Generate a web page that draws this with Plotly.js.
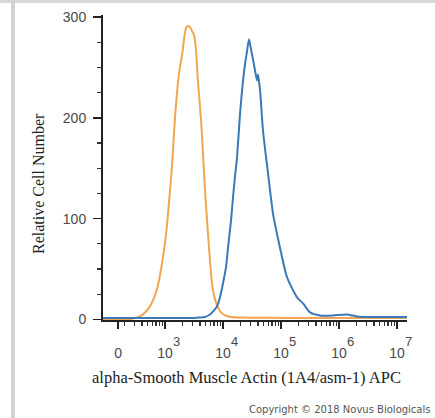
<!DOCTYPE html>
<html>
<head>
<meta charset="utf-8">
<script src="https://cdn.plot.ly/plotly-3.0.1.min.js"></script>
<style>
  html, body { margin: 0; padding: 0; background: #ffffff; }
  #chart { width: 435px; height: 418px; position: relative; }
  #topband { position: absolute; left: 0; top: 0; width: 435px; height: 3px; background: #d6d6d6; z-index: 5; }
  #leftband { position: absolute; left: 11px; top: 0; width: 4px; height: 418px; background: #d2d2d2; z-index: 5; }
</style>
</head>
<body>
<div id="topband"></div>
<div id="leftband"></div>
<div id="chart"></div>
<script>
// x values are in display "decade" units of the biexponential APC axis (3 = 10^3, 4 = 10^4, ...)
const isotypeX = [1.931, 2.138, 2.310, 2.448, 2.569, 2.655, 2.741, 2.793, 2.862, 2.914, 2.966, 3.017, 3.052, 3.086, 3.121, 3.172, 3.224, 3.259, 3.293, 3.328, 3.362, 3.397, 3.431, 3.466, 3.500, 3.534, 3.569, 3.621, 3.655, 3.690, 3.741, 3.776, 3.810, 3.862, 3.914, 3.966, 4.034, 4.138, 4.293, 4.552, 5.069, 6.017, 7.172];
const isotypeY = [0, 0, 0, 1, 3, 7, 13, 19, 30, 44, 62, 84, 105, 128, 152, 200, 235, 251, 262, 278, 289, 291, 290, 286, 282, 268, 235, 198, 165, 128, 85, 58, 36, 20, 12, 7, 4, 2.5, 2, 1.8, 1.6, 1.5, 1.5];

const sampleX = [1.931, 2.741, 3.345, 3.517, 3.603, 3.690, 3.776, 3.845, 3.897, 3.948, 4.000, 4.052, 4.086, 4.138, 4.172, 4.207, 4.241, 4.293, 4.345, 4.379, 4.414, 4.448, 4.483, 4.517, 4.552, 4.586, 4.603, 4.621, 4.638, 4.690, 4.776, 4.862, 4.983, 5.103, 5.276, 5.379, 5.500, 5.672, 5.897, 6.138, 6.310, 6.483, 6.828, 7.172];
const sampleY = [1.5, 1.5, 1.5, 1.5, 2, 2.5, 5, 9, 13, 22, 36, 52, 71, 98, 121, 142, 160, 204, 237, 253, 266, 278, 268, 258, 247, 237, 243, 236, 228, 187, 145, 105, 71, 42, 22, 16, 7, 4, 4, 5, 3, 2.5, 2.5, 2.5];

const xTickVals = [2.19, 3, 4, 5, 6, 7];
const xTickText = ['0', '10', '10', '10', '10', '10'];
const xTickExp = ['', '3', '4', '5', '6', '7'];
const yTickVals = [0, 100, 200, 300];
const yTickText = ['0', '100', '200', '300'];

const xTitle = 'alpha-Smooth Muscle Actin (1A4/asm-1) APC';
const yTitle = 'Relative Cell Number';
const copyright = 'Copyright \u00A9 2018 Novus Biologicals';

// minor (log-style) tick positions
const xMinor = [];
for (let d = 2; d <= 6; d++) {
  for (let k = 2; k <= 9; k++) {
    const v = d + Math.log10(k);
    if (v > 1.95 && v < 7.15) xMinor.push(v);
  }
}

const traces = [
  { x: isotypeX, y: isotypeY, type: 'scatter', mode: 'lines',
    line: { color: '#f2a54e', width: 2, shape: 'spline', smoothing: 0.6 }, hoverinfo: 'skip', showlegend: false },
  { x: sampleX, y: sampleY, type: 'scatter', mode: 'lines',
    line: { color: '#3a78b8', width: 2, shape: 'spline', smoothing: 0.6 }, hoverinfo: 'skip', showlegend: false }
];

const tickFont = { family: 'Liberation Sans, Arial, sans-serif', size: 14, color: '#4a4a4a' };
const titleFont = { family: 'Liberation Serif, Times New Roman, serif', size: 16.5, color: '#222222' };

const expAnnotations = xTickVals.map((v, i) => ({
  text: xTickExp[i], xref: 'x', yref: 'paper', x: v, y: -0.072,
  xanchor: 'left', yanchor: 'middle', xshift: 6, showarrow: false,
  font: { family: 'Liberation Sans, Arial, sans-serif', size: 13, color: '#4a4a4a' }
})).filter(a => a.text);

const layout = {
  width: 435, height: 418,
  margin: { l: 103, r: 28, t: 15, b: 98, pad: 0 },
  paper_bgcolor: 'rgba(0,0,0,0)', plot_bgcolor: '#ffffff',
  showlegend: false,
  xaxis: {
    range: [1.931, 7.172], showgrid: false, zeroline: false,
    showline: true, linecolor: '#222222', linewidth: 2,
    tickmode: 'array', tickvals: xTickVals, ticktext: xTickText,
    ticks: 'outside', ticklen: 7, tickwidth: 1.5, tickcolor: '#222222',
    ticklabelstandoff: 12,
    tickfont: tickFont,
    minor: { tickmode: 'array', tickvals: xMinor, ticks: 'outside', ticklen: 4, tickwidth: 1.2, tickcolor: '#333333' }
  },
  yaxis: {
    range: [-0.5, 302], showgrid: false, zeroline: false,
    showline: true, linecolor: '#222222', linewidth: 2,
    tickmode: 'array', tickvals: yTickVals, ticktext: yTickText,
    ticks: 'outside', ticklen: 8, tickwidth: 1.5, tickcolor: '#222222',
    ticklabelstandoff: 4,
    tickfont: tickFont,
    minor: { dtick: 25, ticks: 'outside', ticklen: 4, tickwidth: 1.2, tickcolor: '#333333' }
  },
  annotations: [
    { text: xTitle, xref: 'paper', yref: 'paper', x: 0.472, y: -0.187,
      xanchor: 'center', yanchor: 'middle', showarrow: false, font: titleFont },
    { text: yTitle, xref: 'paper', yref: 'paper', x: -0.214, y: 0.449, textangle: -90,
      xanchor: 'center', yanchor: 'middle', showarrow: false, font: Object.assign({}, titleFont, { size: 16 }) },
    { text: copyright, xref: 'paper', yref: 'paper', x: 0.474, y: -0.295,
      xanchor: 'left', yanchor: 'middle', showarrow: false,
      font: { family: 'DejaVu Sans, sans-serif', size: 10, color: '#555555' } }
  ].concat(expAnnotations)
};

Plotly.newPlot('chart', traces, layout, { staticPlot: true, displayModeBar: false });
</script>
</body>
</html>
